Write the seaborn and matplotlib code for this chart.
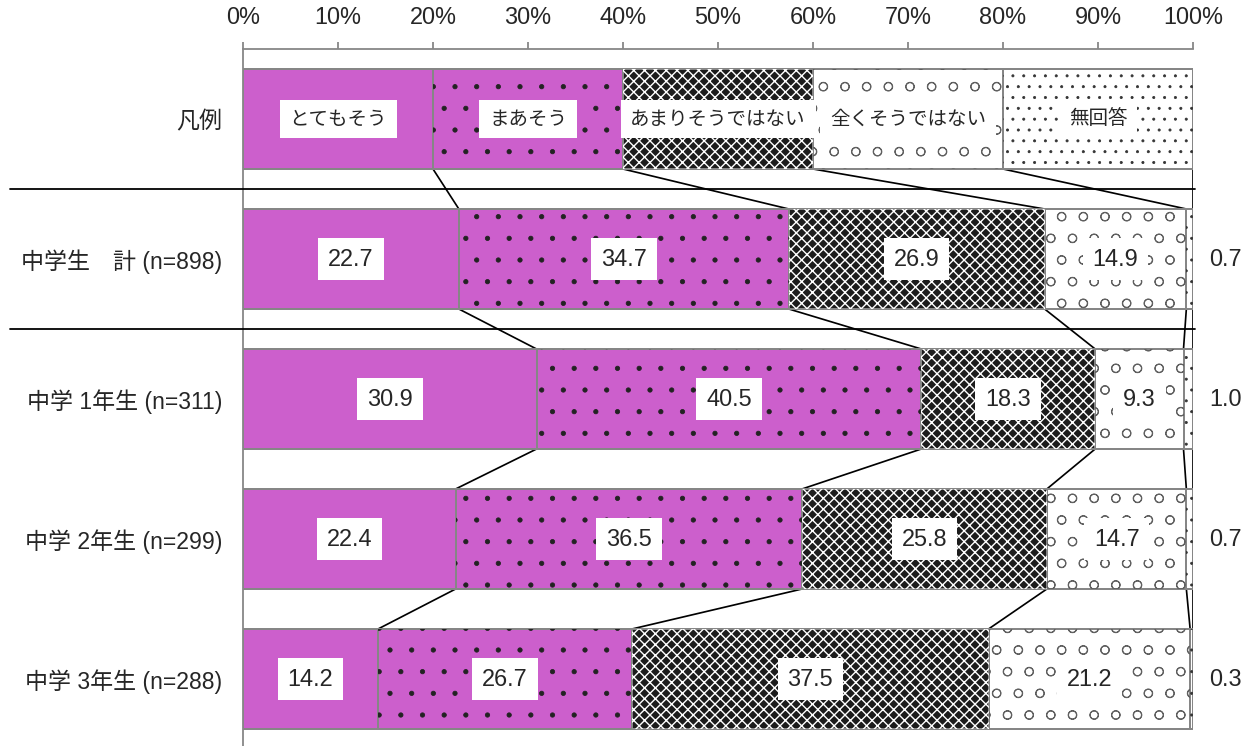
import numpy as np
import pandas as pd
import matplotlib
matplotlib.use("Agg")
import matplotlib.pyplot as plt
import seaborn as sns

# --- data ---
rows = ["凡例", "中学生　計 (n=898)", "中学 1年生 (n=311)", "中学 2年生 (n=299)", "中学 3年生 (n=288)"]
answers = ["とてもそう", "まあそう", "あまりそうではない", "全くそうではない", "無回答"]
totemo = [20, 22.7, 30.9, 22.4, 14.2]
maa = [20, 34.7, 40.5, 36.5, 26.7]
amari = [20, 26.9, 18.3, 25.8, 37.5]
mattaku = [20, 14.9, 9.3, 14.7, 21.2]
mukaito = [20, 0.7, 1.0, 0.7, 0.3]
xticks = list(range(0, 101, 10))

# hatch tiles are one inch wide, so dpi sets the pattern spacing (~22 px like the original)
DPI = 130


def px(v):
    # pixel size -> points at this dpi
    return v * 72 / DPI


sns.set_style("white")
plt.rcParams["font.family"] = ["Liberation Sans", "Noto Sans CJK JP"]

# 100% stacked: normalise each row
vals = np.array([totemo, maa, amari, mattaku, mukaito], dtype=float)
vals = vals / vals.sum(axis=0) * 100
lefts = np.vstack([np.zeros(vals.shape[1]), np.cumsum(vals, axis=0)[:-1]])
rights = lefts + vals

faces = ["#CC5FCC", "#CC5FCC", "#1c1c1c", "white", "white"]
hatches = [None, ".", "xxxx", "o", ".."]
hatch_cols = [None, "#222222", "white", "#606060", "#333333"]
hatch_lw = [0, 0.8, 1.4, 1.0, 0.8]
edge = "#868686"
bar_h = 100 / 140

fig = plt.figure(figsize=(1253 / DPI, 746 / DPI), dpi=DPI)
ax = fig.add_axes([243 / 1253, 0, 950 / 1253, 697 / 746])

for j in range(len(answers)):
    df = pd.DataFrame({"row": rows, "value": vals[j]})
    sns.barplot(data=df, x="value", y="row", orient="h", left=lefts[j],
                color=faces[j], facecolor=faces[j], edgecolor=edge, linewidth=px(2),
                width=bar_h, ax=ax, zorder=2)
    if hatches[j]:
        # pattern drawn as a separate layer so its colour is independent of the edge
        with plt.rc_context({"hatch.linewidth": px(hatch_lw[j])}):
            sns.barplot(data=df, x="value", y="row", orient="h", left=lefts[j],
                        color="white", facecolor="none", edgecolor=hatch_cols[j],
                        hatch=hatches[j], linewidth=0, width=bar_h, ax=ax, zorder=3)

# series lines between consecutive rows
for i in range(len(rows) - 1):
    for j in range(len(answers)):
        ax.plot([rights[j, i], rights[j, i + 1]], [i + bar_h / 2, i + 1 - bar_h / 2],
                color="black", lw=px(1.7), zorder=1)

# separators under the legend row and the total row
for yy in [0.5, 1.5]:
    ax.plot([-24.5, 100.2], [yy, yy], color="black", lw=px(1.8), clip_on=False, zorder=4)

# legend row labels
for j, name in enumerate(answers):
    cx = lefts[j, 0] + vals[j, 0] / 2
    ax.text(cx, 0, name, ha="center", va="center", fontsize=px(19.5), zorder=5,
            bbox=dict(boxstyle="square,pad=0.5", fc="white", ec="none"))

# value labels
for i in range(1, len(rows)):
    for j in range(len(answers) - 1):
        cx = lefts[j, i] + vals[j, i] / 2
        ax.text(cx, i, f"{[totemo, maa, amari, mattaku][j][i]:.1f}", ha="center", va="center",
                fontsize=px(23.5), zorder=5,
                bbox=dict(boxstyle="square,pad=0.42", fc="white", ec="none"))
    ax.text(103.4, i, f"{mukaito[i]:.1f}", ha="center", va="center", fontsize=px(23.5))

ax.set_xlim(0, 100)
ax.set_ylim((746 - 119) / 140, -0.5)
ax.xaxis.tick_top()
ax.set_xticks(xticks)
ax.set_xticklabels([f"{v}%" for v in xticks])
ax.set_yticks(range(len(rows)))
ax.set_yticklabels(rows)
ax.set_yticks(np.arange(-0.5, len(rows) - 0.5, 1), minor=True)
ax.tick_params(axis="x", which="major", direction="out", length=px(7), width=px(1.8),
               color=edge, labelsize=px(23.5), pad=px(13), top=True, bottom=False)
ax.tick_params(axis="y", which="major", length=0, labelsize=px(23), pad=px(21))
ax.tick_params(axis="y", which="minor", direction="out", length=px(7), width=px(1.8), color=edge)
ax.set_xlabel("")
ax.set_ylabel("")
for side in ["right", "bottom"]:
    ax.spines[side].set_visible(False)
for side in ["top", "left"]:
    ax.spines[side].set_color(edge)
    ax.spines[side].set_linewidth(px(1.8))

fig.savefig("out.png", dpi=DPI)
